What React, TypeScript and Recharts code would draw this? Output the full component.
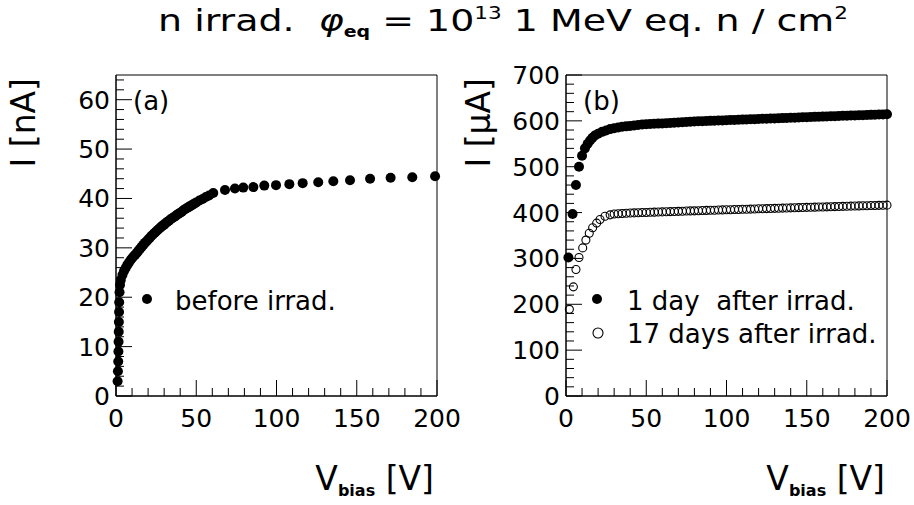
import React from 'react';
import { ScatterChart, Scatter, XAxis, YAxis, ReferenceArea } from 'recharts';

// panel (a): before irradiation, I in nA
const beforeV = [
  1.0, 1.2, 1.4, 1.5, 1.6, 1.7, 1.8, 1.9, 2.0, 2.2, 2.5,
  3, 4, 5, 6, 7, 8, 9, 10, 11, 12, 13, 14, 15, 16, 17, 18, 19, 20,
  21, 22, 23, 24, 25, 26, 27, 28, 29, 30, 31, 32, 33, 34, 35, 36, 37, 38, 39, 40,
  41, 42, 43, 44, 45, 46, 47, 48, 49, 50, 52, 54, 56, 58,
  60.6, 67.9, 74.1, 79.3, 85.6, 92.4, 99.7, 108, 116.3, 126, 135.4, 145.8, 158.3, 171.1, 184.6, 198.8,
];
const beforeI = [
  3, 5, 7, 9, 11, 13, 15, 17, 19, 21, 22.5,
  23.5, 24.5, 25.3, 25.9, 26.5, 27.0, 27.5, 27.9, 28.3, 28.6, 29.0, 29.4, 29.8, 30.2, 30.6, 31.0, 31.3, 31.7,
  32.0, 32.4, 32.7, 33.0, 33.3, 33.6, 33.9, 34.2, 34.5, 34.7, 35.0, 35.3, 35.5, 35.8, 36.0, 36.2, 36.4, 36.7, 36.9, 37.1,
  37.3, 37.6, 37.8, 38.0, 38.2, 38.4, 38.6, 38.8, 39.0, 39.2, 39.6, 39.9, 40.3, 40.6,
  41.1, 41.7, 42.0, 42.2, 42.3, 42.6, 42.7, 42.9, 43.1, 43.3, 43.5, 43.7, 44.0, 44.2, 44.3, 44.5,
];

// panel (b): I in uA
const day1V = [
  1.5, 4.1, 6.2, 8.1, 10, 11.8, 13.5, 15, 16.5, 18, 20, 22.5, 25, 27.5,
  30, 32.5, 35, 37.5, 40, 42.5, 45, 47.5, 50, 52.5, 55, 57.5, 60, 62.5, 65, 67.5, 70, 72.5, 75, 77.5,
  80, 82.5, 85, 87.5, 90, 92.5, 95, 97.5, 100, 102.5, 105, 107.5, 110, 112.5, 115, 117.5, 120, 122.5, 125,
  127.5, 130, 132.5, 135, 137.5, 140, 142.5, 145, 147.5, 150, 152.5, 155, 157.5, 160, 162.5, 165, 167.5,
  170, 172.5, 175, 177.5, 180, 182.5, 185, 187.5, 190, 192.5, 195, 197.5, 200,
];
const day1I = [
  302, 397, 460, 500, 524, 540, 550, 557, 563, 568, 572, 576, 579, 582,
  584, 585.5, 587, 588, 589, 590, 591, 592, 592.5, 593, 593.5, 594, 594.5, 595, 595.5, 596, 596.5, 597, 597.5, 598,
  598.5, 599, 599.3, 599.7, 600, 600.3, 600.7, 601, 601.4, 601.7, 602, 602.4, 602.7, 603, 603.4, 603.7, 604, 604.4, 604.7,
  605, 605.4, 605.7, 606, 606.4, 606.7, 607, 607.4, 607.7, 608, 608.3, 608.7, 609, 609.3, 609.7, 610, 610.3,
  610.6, 611, 611.3, 611.6, 611.9, 612.2, 612.5, 612.8, 613.1, 613.4, 613.7, 614, 614.3,
];
const day17V = [
  2.1, 4.6, 6.2, 8.1, 10.4, 12.4, 14.5, 16.6, 19.1, 21.2, 24.3, 27.5,
  30, 32.5, 35, 37.5, 40, 42.5, 45, 47.5, 50, 52.5, 55, 57.5, 60, 62.5, 65, 67.5, 70, 72.5, 75, 77.5,
  80, 82.5, 85, 87.5, 90, 92.5, 95, 97.5, 100, 102.5, 105, 107.5, 110, 112.5, 115, 117.5, 120, 122.5, 125,
  127.5, 130, 132.5, 135, 137.5, 140, 142.5, 145, 147.5, 150, 152.5, 155, 157.5, 160, 162.5, 165, 167.5,
  170, 172.5, 175, 177.5, 180, 182.5, 185, 187.5, 190, 192.5, 195, 197.5, 200,
];
const day17I = [
  189, 238, 276, 302, 323, 340, 355, 367, 377, 385, 392, 395,
  397, 397.5, 398, 398.5, 399, 399.3, 399.6, 400, 400.3, 400.6, 400.9, 401.2, 401.5, 401.8, 402.1, 402.4, 402.7, 403, 403.3, 403.6,
  403.8, 404.1, 404.4, 404.7, 405, 405.2, 405.5, 405.8, 406, 406.3, 406.6, 406.8, 407.1, 407.4, 407.6, 407.9, 408.2, 408.4, 408.7,
  409, 409.2, 409.5, 409.7, 410, 410.3, 410.5, 410.8, 411, 411.3, 411.5, 411.8, 412, 412.3, 412.5, 412.8, 413,
  413.3, 413.5, 413.8, 414, 414.3, 414.5, 414.8, 415, 415.3, 415.5, 415.8, 416, 416.2,
];

// axis ticks (majors get labels)
const vTicks = [0, 10, 20, 30, 40, 50, 60, 70, 80, 90, 100, 110, 120, 130, 140, 150, 160, 170, 180, 190, 200];
const vLabels = [0, 50, 100, 150, 200];
const nATicks = [0, 2, 4, 6, 8, 10, 12, 14, 16, 18, 20, 22, 24, 26, 28, 30, 32, 34, 36, 38, 40, 42, 44, 46, 48, 50, 52, 54, 56, 58, 60, 62, 64];
const nALabels = [0, 10, 20, 30, 40, 50, 60];
const uATicks = [0, 20, 40, 60, 80, 100, 120, 140, 160, 180, 200, 220, 240, 260, 280, 300, 320, 340, 360, 380, 400, 420, 440, 460, 480, 500, 520, 540, 560, 580, 600, 620, 640, 660, 680, 700];
const uALabels = [0, 100, 200, 300, 400, 500, 600, 700];

const FONT = '"DejaVu Sans", sans-serif';
const AXIS_H = 40;
const AXIS_W = 60;

const toPoints = (vs: number[], is: number[]) => vs.map((v, k) => ({ v, i: is[k] }));

const FilledDot = (p: any) => <circle cx={p.cx} cy={p.cy} r={5} fill="#000" />;
const OpenDot = (p: any) => <circle cx={p.cx} cy={p.cy} r={4} fill="none" stroke="#000" strokeWidth={1.1} />;

const makeXTick = (labels: number[]) => (props: any) => {
  const { x, y, payload } = props;
  const major = labels.includes(payload.value);
  return (
    <g>
      <line x1={x} y1={y} x2={x} y2={y - (major ? 16 : 8)} stroke="#000" />
      {major && (
        <text x={x} y={y + 31} textAnchor="middle" fontSize={25} fontFamily={FONT} fill="#000">
          {payload.value}
        </text>
      )}
    </g>
  );
};

const makeYTick = (labels: number[]) => (props: any) => {
  const { x, y, payload } = props;
  const major = labels.includes(payload.value);
  return (
    <g>
      <line x1={x} y1={y} x2={x + (major ? 16 : 8)} y2={y} stroke="#000" />
      {major && (
        <text x={x - 6} y={y + 9} textAnchor="end" fontSize={25} fontFamily={FONT} fill="#000">
          {payload.value}
        </text>
      )}
    </g>
  );
};

const Panel = ({ width, left, right, yMax, yTicks, yLabels, children }: any) => (
  <ScatterChart width={width} height={505} margin={{ top: 75, right, bottom: 109 - AXIS_H, left: left - AXIS_W }}>
    <XAxis
      type="number"
      dataKey="v"
      domain={[0, 200]}
      ticks={vTicks}
      interval={0}
      height={AXIS_H}
      tickSize={0}
      tickMargin={0}
      tickLine={false}
      axisLine={{ stroke: '#000' }}
      tick={makeXTick(vLabels)}
    />
    <YAxis
      type="number"
      dataKey="i"
      domain={[0, yMax]}
      ticks={yTicks}
      interval={0}
      width={AXIS_W}
      tickSize={0}
      tickMargin={0}
      tickLine={false}
      axisLine={{ stroke: '#000' }}
      tick={makeYTick(yLabels)}
    />
    <ReferenceArea x1={0} x2={200} y1={0} y2={yMax} fill="none" stroke="#000" strokeOpacity={1} />
    {children}
  </ScatterChart>
);

export default function App() {
  return (
    <div style={{ position: 'absolute', left: 0, top: 0, width: 914, height: 505, background: '#fff', fontFamily: FONT }}>
      <div style={{ position: 'absolute', left: 0, top: 0 }}>
        <Panel width={460} left={116} right={23} yMax={65} yTicks={nATicks} yLabels={nALabels}>
          <Scatter data={toPoints(beforeV, beforeI)} shape={FilledDot} isAnimationActive={false} />
        </Panel>
      </div>
      <div style={{ position: 'absolute', left: 460, top: 0 }}>
        <Panel width={454} left={106} right={27} yMax={700} yTicks={uATicks} yLabels={uALabels}>
          <Scatter data={toPoints(day17V, day17I)} shape={OpenDot} isAnimationActive={false} />
          <Scatter data={toPoints(day1V, day1I)} shape={FilledDot} isAnimationActive={false} />
        </Panel>
      </div>
      <svg width={914} height={505} style={{ position: 'absolute', left: 0, top: 0, pointerEvents: 'none' }} fontFamily={FONT}>
        <g transform="translate(503,31) scale(1.265,1)">
          <text x={0} y={0} textAnchor="middle" fontSize={30} style={{ whiteSpace: 'pre' }}>
            {'n irrad.  '}
            <tspan fontStyle="italic">φ</tspan>
            <tspan dy={6} fontSize={15} fontWeight="bold">eq</tspan>
            <tspan dy={-6}>{' = 10'}</tspan>
            <tspan dy={-12} fontSize={17}>13</tspan>
            <tspan dy={12}>{' 1 MeV eq. n / cm'}</tspan>
            <tspan dy={-12} fontSize={17}>2</tspan>
          </text>
        </g>

        <text transform="translate(35,78) rotate(-90)" textAnchor="end" fontSize={33}>I [nA]</text>
        <text transform="translate(490,78) rotate(-90)" textAnchor="end" fontSize={33}>I [μA]</text>

        <text x={434} y={490} textAnchor="end" fontSize={33}>
          V<tspan dy={6} fontSize={16} fontWeight="bold">bias</tspan>
          <tspan dy={-6}>{' [V]'}</tspan>
        </text>
        <text x={885} y={490} textAnchor="end" fontSize={33}>
          V<tspan dy={6} fontSize={16} fontWeight="bold">bias</tspan>
          <tspan dy={-6}>{' [V]'}</tspan>
        </text>

        <text x={133} y={110} fontSize={26}>(a)</text>
        <text x={583} y={110} fontSize={26}>(b)</text>

        <circle cx={147} cy={299} r={5} fill="#000" />
        <text x={175} y={310} fontSize={26}>before irrad.</text>

        <circle cx={597} cy={299} r={5} fill="#000" />
        <text x={627} y={310} fontSize={26} style={{ whiteSpace: 'pre' }}>1 day  after irrad.</text>
        <circle cx={598} cy={333} r={5} fill="none" stroke="#000" strokeWidth={1.1} />
        <text x={627} y={343} fontSize={26}>17 days after irrad.</text>
      </svg>
    </div>
  );
}
